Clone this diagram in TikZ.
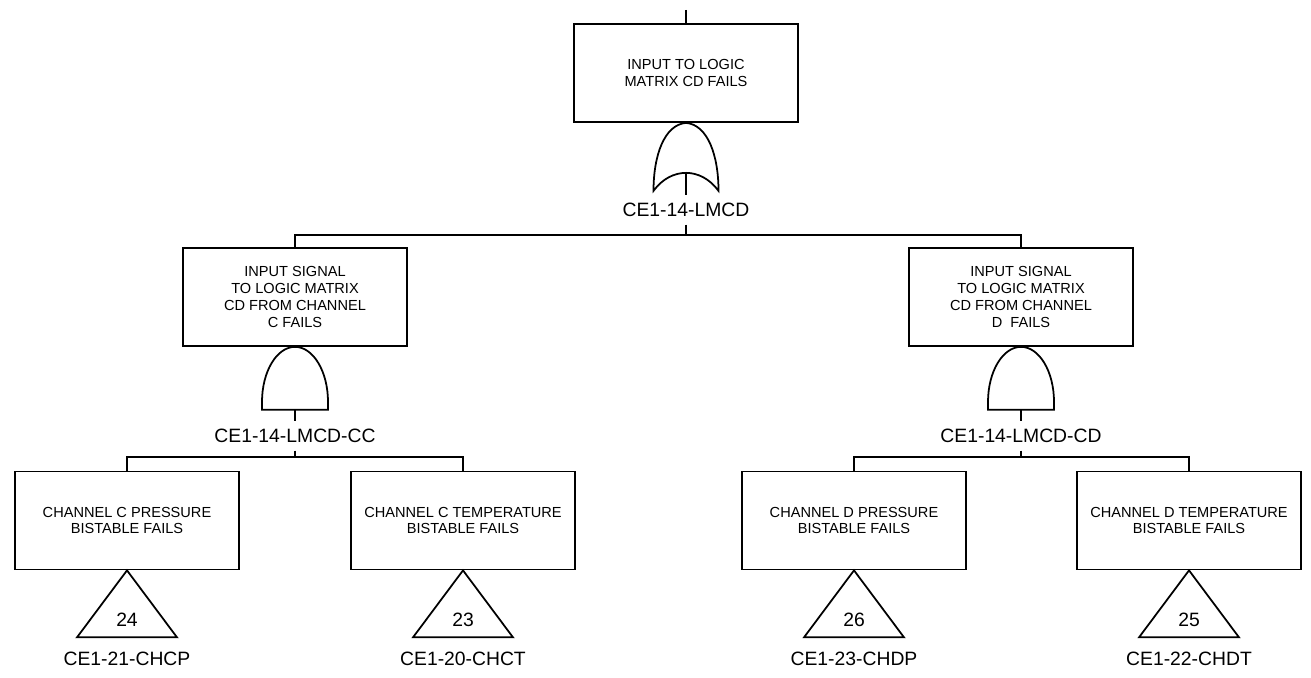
\documentclass[tikz,border=0pt]{standalone}
\usepackage{fontspec}
\setmainfont{Liberation Sans}
\usetikzlibrary{positioning}

\begin{document}
\begin{tikzpicture}[x=0.02cm, y=-0.02cm, line width=1pt,
    event/.style={draw, minimum width=4.48cm, minimum height=1.96cm, inner sep=0pt, align=center, font=\fontsize{8.3}{9.5}\selectfont},
    tag/.style={inner sep=4pt, font=\fontsize{11}{13}\selectfont},
    pics/orgate/.style={code={
        \draw (-32.5,68) .. controls (-32.5,33) and (-22,2) .. (0,0) .. controls (22,2) and (32.5,33) .. (32.5,68) .. controls (15,44) and (-15,44) .. (-32.5,68) -- cycle;
        \coordinate (-out) at (0,50);}},
    pics/andgate/.style={code={
        \draw (-33,63) -- (-33,55) .. controls (-33,24.6) and (-18.2,0) .. (0,0) .. controls (18.2,0) and (33,24.6) .. (33,55) -- (33,63) -- cycle;
        \coordinate (-out) at (0,63);}},
    pics/xfer/.style={code={
        \draw (0,0) -- (50,67) -- (-50,67) -- cycle;
        \node[tag, inner sep=0pt] (-num) at (0,49) {#1};}}]
\useasboundingbox (0,0) rectangle (1311,678);

% top event
\coordinate (feed) at (686,10);
\node[event] (lm) at (686,73) {INPUT TO LOGIC\\MATRIX CD FAILS};
\draw (feed) -- (lm);
\pic (orLM) at (lm.south) {orgate};
\node[tag] (lmcd) at (686,210) {CE1-14-LMCD};
\draw (orLM-out) -- (lmcd);
\coordinate (busLM) at (686,235);
\draw (lmcd) -- (busLM);

% channel inputs
\node[event] (inC) at (295,297) {INPUT SIGNAL\\TO LOGIC MATRIX\\CD FROM CHANNEL\\C FAILS};
\node[event] (inD) at (1021,297) {INPUT SIGNAL\\TO LOGIC MATRIX\\CD FROM CHANNEL\\D\ \ FAILS};
\draw (inC) |- (busLM) -| (inD);
\pic (andC) at (inC.south) {andgate};
\pic (andD) at (inD.south) {andgate};
\node[tag] (lmcdcc) at (295,436) {CE1-14-LMCD-CC};
\node[tag] (lmcdcd) at (1021,436) {CE1-14-LMCD-CD};
\draw (andC-out) -- (lmcdcc);
\draw (andD-out) -- (lmcdcd);
\coordinate (busC) at (295,457);
\coordinate (busD) at (1021,457);
\draw (lmcdcc) -- (busC);
\draw (lmcdcd) -- (busD);

% bistables
\node[event] (chcp) at (127,520.5) {CHANNEL C PRESSURE\\BISTABLE FAILS};
\node[event] (chct) at (463,520.5) {CHANNEL C TEMPERATURE\\BISTABLE FAILS};
\node[event] (chdp) at (854,520.5) {CHANNEL D PRESSURE\\BISTABLE FAILS};
\node[event] (chdt) at (1189,520.5) {CHANNEL D TEMPERATURE\\BISTABLE FAILS};
\draw (chcp) |- (busC) -| (chct);
\draw (chdp) |- (busD) -| (chdt);
\pic (tCHCP) at (chcp.south) {xfer=24};
\pic (tCHCT) at (chct.south) {xfer=23};
\pic (tCHDP) at (chdp.south) {xfer=26};
\pic (tCHDT) at (chdt.south) {xfer=25};
\node[tag] (idCHCP) at (127,659) {CE1-21-CHCP};
\node[tag] (idCHCT) at (463,659) {CE1-20-CHCT};
\node[tag] (idCHDP) at (854,659) {CE1-23-CHDP};
\node[tag] (idCHDT) at (1189,659) {CE1-22-CHDT};
\end{tikzpicture}
\end{document}
